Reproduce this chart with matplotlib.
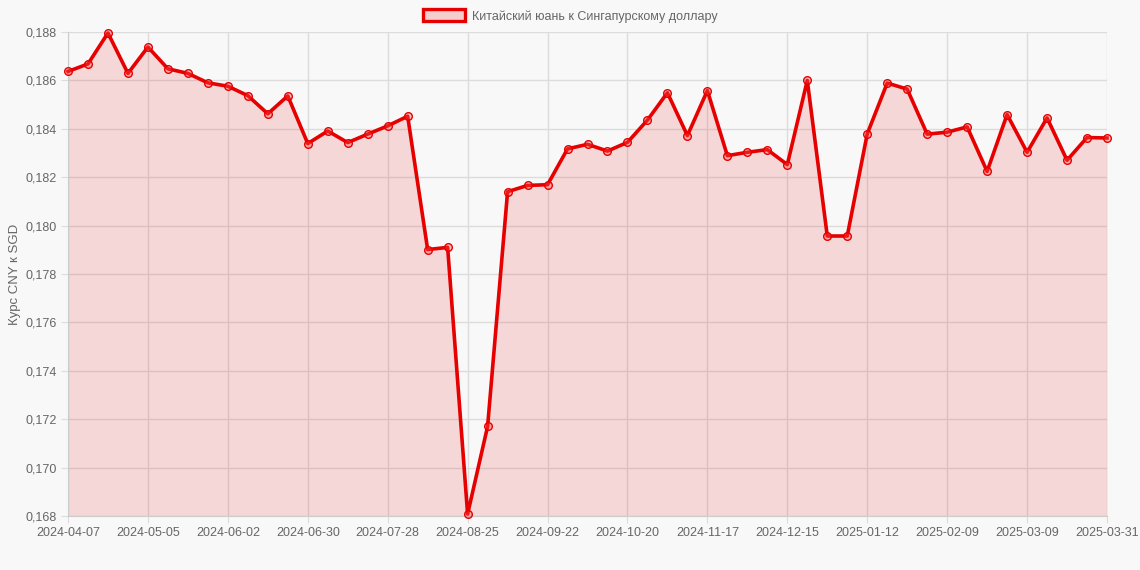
import datetime as dt

import numpy as np
import matplotlib
matplotlib.use("Agg")
from matplotlib import pyplot as plt
from matplotlib.patches import Patch

# weekly dates, last one is the end-of-period day
dates = [dt.date(2024, 4, 7) + dt.timedelta(weeks=i) for i in range(52)]
dates.append(dt.date(2025, 3, 31))
labels = [d.isoformat() for d in dates]

rates = [
    0.18637, 0.18668, 0.18796, 0.18629, 0.18738, 0.18648, 0.18629, 0.18590,
    0.18576, 0.18537, 0.18462, 0.18536, 0.18339, 0.18391, 0.18343, 0.18378,
    0.18412, 0.18452, 0.17901, 0.17910, 0.16808, 0.17170, 0.18140, 0.18166,
    0.18169, 0.18317, 0.18336, 0.18308, 0.18344, 0.18436, 0.18549, 0.18372,
    0.18558, 0.18289, 0.18303, 0.18314, 0.18252, 0.18600, 0.17957, 0.17957,
    0.18379, 0.18589, 0.18564, 0.18378, 0.18386, 0.18408, 0.18224, 0.18459,
    0.18303, 0.18445, 0.18270, 0.18364, 0.18362,
]

series_name = "Китайский юань к Сингапурскому доллару"
y_title = "Курс CNY к SGD"
y_ticks = [0.168, 0.170, 0.172, 0.174, 0.176, 0.178, 0.180, 0.182, 0.184, 0.186, 0.188]

bg = "#f8f8f8"
text_col = "#666666"
grid_col = "#dcdcdc"
line_col = "#e60000"
fill_col = (0.93, 0.12, 0.12, 0.15)

plt.rcParams['font.family'] = ['Liberation Sans', 'DejaVu Sans']

fig = plt.figure(figsize=(11.4, 5.7), dpi=100, facecolor=bg)
ax = fig.add_axes([68 / 1140, 1 - 516 / 570, (1107 - 68) / 1140, (516 - 32) / 570])
ax.set_facecolor(bg)

x = np.arange(len(rates))
ymin, ymax = y_ticks[0], y_ticks[-1]

ax.fill_between(x, rates, ymin, color=fill_col, linewidth=0, zorder=2)
ax.plot(x, rates, color=line_col, linewidth=2.6, zorder=3, clip_on=False,
        marker="o", markersize=5.5, markerfacecolor=(1, 0.3, 0.3, 0.35),
        markeredgecolor=line_col, markeredgewidth=1.0)

ax.set_xlim(0, len(rates) - 1)
ax.set_ylim(ymin, ymax)

tick_idx = list(range(0, len(rates), 4))
if tick_idx[-1] != len(rates) - 1:
    tick_idx.append(len(rates) - 1)
ax.set_xticks(tick_idx)
ax.set_xticklabels([labels[i] for i in tick_idx])
ax.set_yticks(y_ticks)
ax.set_yticklabels([("%.3f" % v).replace(".", ",") for v in y_ticks])

ax.grid(True, color=grid_col, linewidth=1, zorder=1)
ax.set_axisbelow(True)
for side in ["top", "right"]:
    ax.spines[side].set_visible(False)
for side in ["left", "bottom"]:
    ax.spines[side].set_color("#cccccc")
ax.tick_params(axis="both", colors=grid_col, labelcolor=text_col, labelsize=9, length=5)
ax.tick_params(axis="x", pad=3)
ax.tick_params(axis="y", pad=3)

ax.set_ylabel(y_title, color=text_col, fontsize=9.5, labelpad=3)

handle = Patch(facecolor=(0.97, 0.8, 0.8), edgecolor=line_col, linewidth=2.4)
fig.legend([handle], [series_name], loc="center", bbox_to_anchor=(0.5, 1 - 16 / 570),
           frameon=False, fontsize=9, labelcolor=text_col, handlelength=3.4,
           handleheight=1.1, handletextpad=0.5)

fig.savefig("out.png", dpi=100, facecolor=bg)
